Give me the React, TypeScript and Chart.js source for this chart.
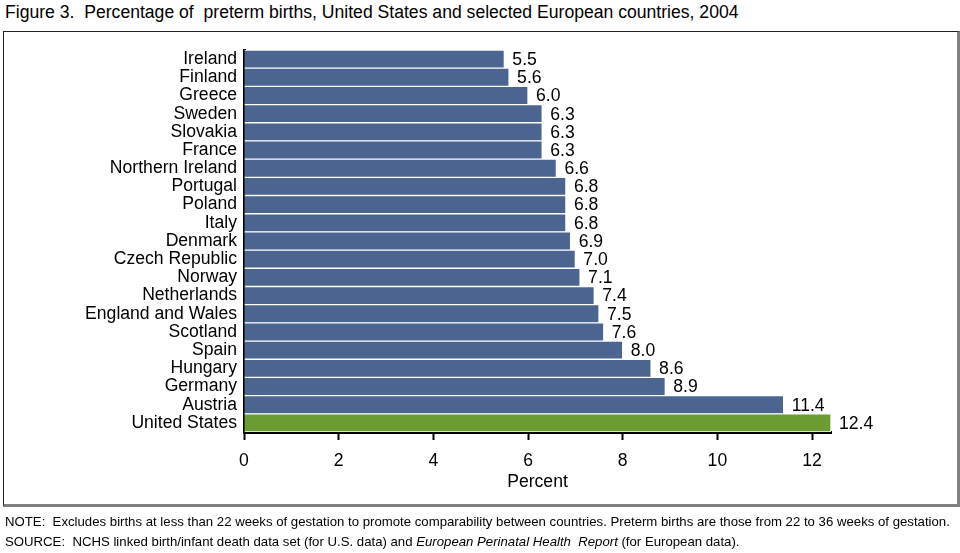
import React, { useEffect, useRef } from "react";
import { Chart, registerables } from "chart.js";

Chart.register(...registerables);

const countries = [
  "Ireland", "Finland", "Greece", "Sweden", "Slovakia", "France", "Northern Ireland",
  "Portugal", "Poland", "Italy", "Denmark", "Czech Republic", "Norway", "Netherlands",
  "England and Wales", "Scotland", "Spain", "Hungary", "Germany", "Austria", "United States",
];
const percents = [
  5.5, 5.6, 6.0, 6.3, 6.3, 6.3, 6.6, 6.8, 6.8, 6.8, 6.9, 7.0, 7.1, 7.4, 7.5, 7.6, 8.0, 8.6, 8.9, 11.4, 12.4,
];
const xTicks = [0, 2, 4, 6, 8, 10, 12];

const FONT = "'Liberation Sans', Arial, sans-serif";
const FS = 17.6;
const BLUE = "#4b6590";
const GREEN = "#6b9c32";

const valueLabels = {
  id: "valueLabels",
  afterDatasetsDraw(chart: any) {
    const ctx = chart.ctx;
    const meta = chart.getDatasetMeta(0);
    ctx.save();
    ctx.font = `${FS}px ${FONT}`;
    ctx.fillStyle = "#000";
    ctx.textAlign = "left";
    ctx.textBaseline = "middle";
    meta.data.forEach((bar: any, i: number) => {
      ctx.fillText(percents[i].toFixed(1), bar.x + 8, bar.y + 1);
    });
    ctx.restore();
  },
};

export default function App() {
  const ref = useRef<HTMLCanvasElement>(null);
  useEffect(() => {
    if (!ref.current) return;
    const chart = new Chart(ref.current, {
      type: "bar",
      data: {
        labels: countries,
        datasets: [
          {
            data: percents,
            backgroundColor: countries.map((c) => (c === "United States" ? GREEN : BLUE)),
            borderColor: "#ffffff",
            borderWidth: 1,
            barPercentage: 1,
            categoryPercentage: 1,
          },
        ],
      },
      options: {
        indexAxis: "y",
        animation: false,
        responsive: false,
        maintainAspectRatio: false,
        layout: { padding: { left: 0, right: 129, top: 50, bottom: 60 } },
        plugins: { legend: { display: false }, tooltip: { enabled: false }, title: { display: false } },
        scales: {
          x: {
            type: "linear",
            min: 0,
            max: 12.4,
            afterBuildTicks: (scale: any) => {
              scale.ticks = xTicks.map((v) => ({ value: v }));
            },
            afterFit: (scale: any) => {
              scale.height = 61;
            },
            grid: {
              drawOnChartArea: false,
              drawTicks: true,
              tickLength: 8,
              tickColor: "#000",
              tickWidth: 2,
            },
            border: { display: true, color: "#000", width: 3 },
            ticks: {
              color: "#000",
              font: { family: FONT, size: FS },
              padding: 11,
              maxRotation: 0,
              autoSkip: false,
            },
            title: {
              display: true,
              text: "Percent",
              color: "#000",
              font: { family: FONT, size: FS },
              padding: { top: 2, bottom: 0 },
            },
          },
          y: {
            afterFit: (scale: any) => {
              scale.width = 244;
            },
            grid: { display: false, drawTicks: false },
            border: { display: true, color: "#000", width: 3 },
            ticks: {
              color: "#000",
              font: { family: FONT, size: FS },
              padding: 7,
              autoSkip: false,
            },
          },
        },
      },
      plugins: [valueLabels],
    });
    return () => chart.destroy();
  }, []);

  return (
    <div
      style={{
        position: "fixed",
        left: 0,
        top: 0,
        width: 960,
        height: 553,
        background: "#fff",
        fontFamily: FONT,
        color: "#000",
      }}
    >
      <div style={{ position: "absolute", left: 5, top: 2, fontSize: FS, whiteSpace: "pre" }}>
        {"Figure 3.  Percentage of  preterm births, United States and selected European countries, 2004"}
      </div>
      <div
        style={{
          position: "absolute",
          left: 3,
          top: 31,
          width: 953,
          height: 472,
          borderTop: "1px solid #222",
          borderLeft: "1px solid #222",
          borderRight: "3px solid #808080",
          borderBottom: "3px solid #808080",
        }}
      />
      <canvas ref={ref} width={960} height={553} style={{ position: "absolute", left: 0, top: 0 }} />
      <div style={{ position: "absolute", left: 5, top: 514, fontSize: 13.2, whiteSpace: "pre" }}>
        {"NOTE:  Excludes births at less than 22 weeks of gestation to promote comparability between countries. Preterm births are those from 22 to 36 weeks of gestation."}
      </div>
      <div style={{ position: "absolute", left: 5, top: 534, fontSize: 13.2, whiteSpace: "pre" }}>
        {"SOURCE:  NCHS linked birth/infant death data set (for U.S. data) and "}
        <i>European Perinatal Health  Report</i>
        {" (for European data)."}
      </div>
    </div>
  );
}
